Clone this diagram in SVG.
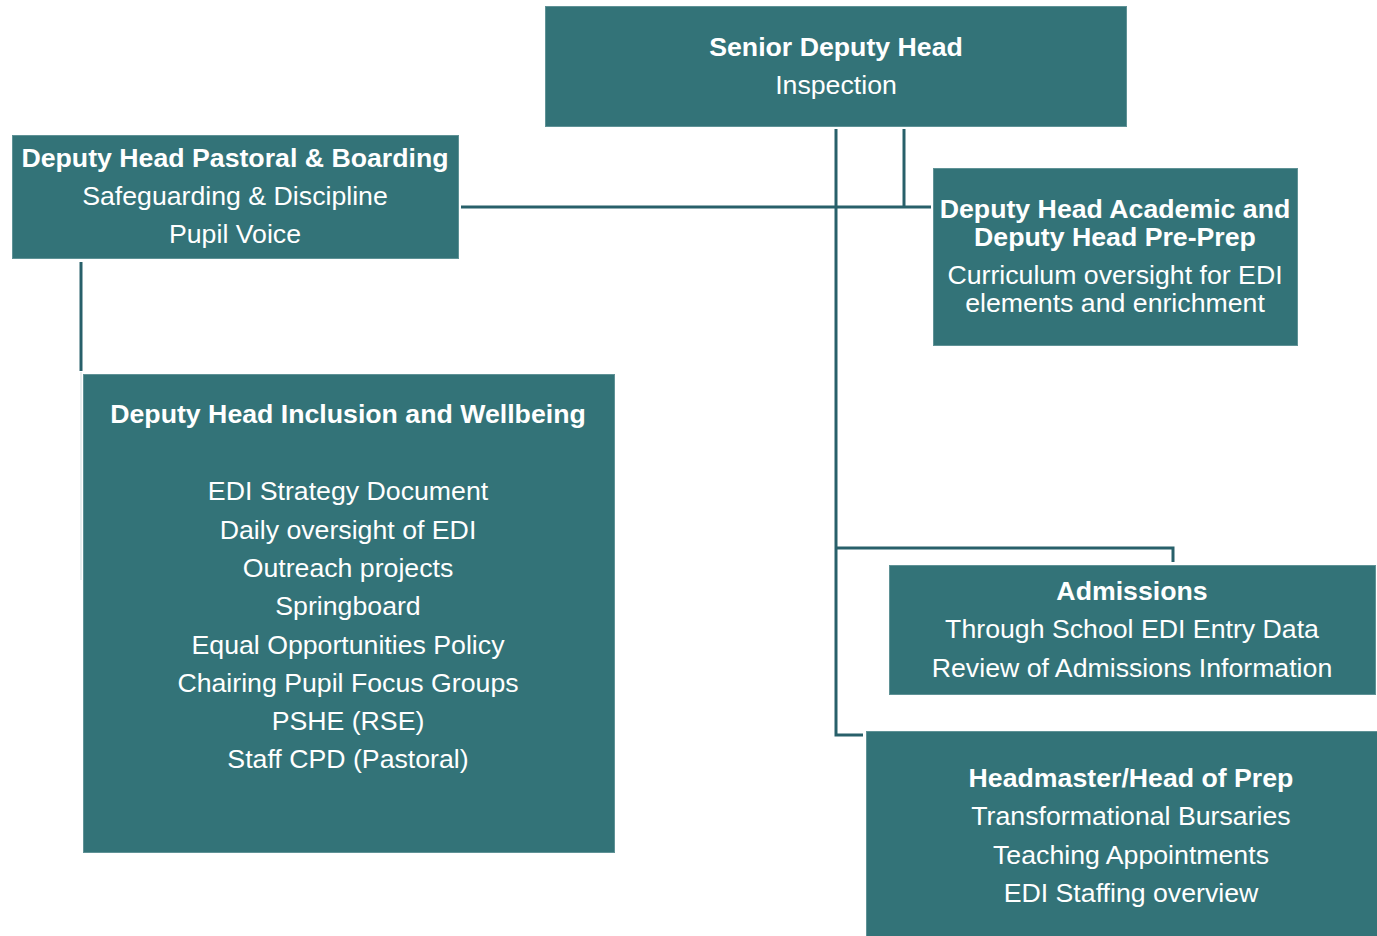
<svg xmlns="http://www.w3.org/2000/svg" width="1377" height="936" viewBox="0 0 1377 936">
  <style>
    .box { fill: #337378; stroke: #5f9296; stroke-width: 1; }
    .t { font-family: "Liberation Sans", Arial, sans-serif; font-size: 26.7px; fill: #ffffff; text-anchor: middle; }
    .b { font-weight: bold; }
    .link { fill: none; stroke: #28606a; stroke-width: 3; stroke-linecap: butt; stroke-linejoin: miter; }
    .faint { fill: none; stroke: #d3dfe0; stroke-width: 1; }
  </style>
  <rect width="1377" height="936" fill="#ffffff"/>

  <!-- connectors -->
  <g id="connectors">
    <path class="link" d="M836,129 V735 H863"/>
    <path class="link" d="M904,129 V207"/>
    <path class="link" d="M461,207 H931"/>
    <path class="link" d="M836,548 H1173 V562"/>
    <path class="link" d="M81,262 V371"/>
    <path class="faint" d="M81,372 V580"/>
  </g>

  <g id="senior-deputy-head">
    <rect class="box" x="545.5" y="6.5" width="581" height="120"/>
    <text class="t b" x="836" y="55.5">Senior Deputy Head</text>
    <text class="t" x="836" y="93.5">Inspection</text>
  </g>

  <g id="deputy-head-pastoral">
    <rect class="box" x="12.5" y="135.5" width="446" height="123"/>
    <text class="t b" x="235" y="166.5">Deputy Head Pastoral &amp; Boarding</text>
    <text class="t" x="235" y="204.5">Safeguarding &amp; Discipline</text>
    <text class="t" x="235" y="242.5">Pupil Voice</text>
  </g>

  <g id="deputy-head-academic">
    <rect class="box" x="933.5" y="168.5" width="364" height="177"/>
    <text class="t b" x="1115" y="217.5">Deputy Head Academic and</text>
    <text class="t b" x="1115" y="245.5">Deputy Head Pre-Prep</text>
    <text class="t" x="1115" y="283.5">Curriculum oversight for EDI</text>
    <text class="t" x="1115" y="311.5">elements and enrichment</text>
  </g>

  <g id="deputy-head-inclusion">
    <rect class="box" x="83.5" y="374.5" width="531" height="478"/>
    <text class="t b" x="348" y="422.5">Deputy Head Inclusion and Wellbeing</text>
    <text class="t" x="348" y="499.5">EDI Strategy Document</text>
    <text class="t" x="348" y="538.5">Daily oversight of EDI</text>
    <text class="t" x="348" y="576.5">Outreach projects</text>
    <text class="t" x="348" y="614.5">Springboard</text>
    <text class="t" x="348" y="653.5">Equal Opportunities Policy</text>
    <text class="t" x="348" y="691.5">Chairing Pupil Focus Groups</text>
    <text class="t" x="348" y="729.5">PSHE (RSE)</text>
    <text class="t" x="348" y="767.5">Staff CPD (Pastoral)</text>
  </g>

  <g id="admissions">
    <rect class="box" x="889.5" y="565.5" width="486" height="129"/>
    <text class="t b" x="1132" y="599.5">Admissions</text>
    <text class="t" x="1132" y="637.5">Through School EDI Entry Data</text>
    <text class="t" x="1132" y="676.5">Review of Admissions Information</text>
  </g>

  <g id="headmaster">
    <rect class="box" x="866.5" y="731.5" width="512" height="206"/>
    <text class="t b" x="1131" y="786.5">Headmaster/Head of Prep</text>
    <text class="t" x="1131" y="824.5">Transformational Bursaries</text>
    <text class="t" x="1131" y="863.5">Teaching Appointments</text>
    <text class="t" x="1131" y="901.5">EDI Staffing overview</text>
  </g>
</svg>
